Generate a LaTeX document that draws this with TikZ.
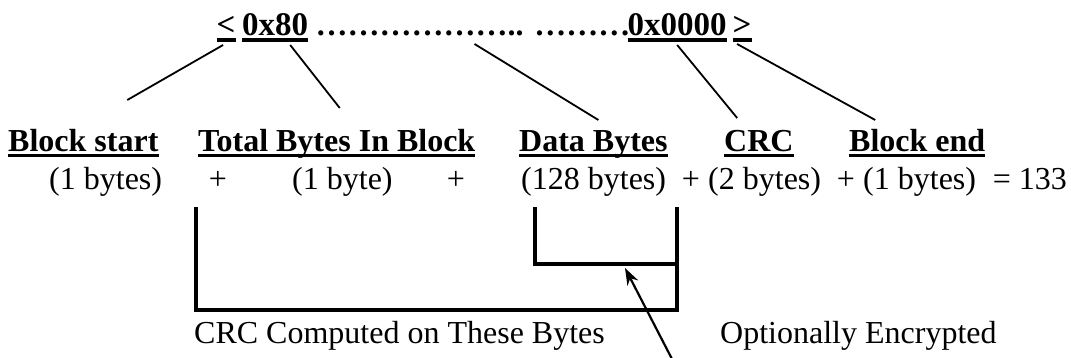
\documentclass[tikz,border=0pt]{standalone}
\usepackage{fontspec}
\setmainfont{Liberation Serif}
\usetikzlibrary{arrows.meta}

\tikzset{
  hextxt/.style={font=\fontsize{33}{40}\selectfont\bfseries, inner sep=0pt, anchor=base west},
  fieldtxt/.style={font=\fontsize{32}{38}\selectfont\bfseries, inner sep=0pt, anchor=base west},
  sizetxt/.style={font=\fontsize{32}{38}\selectfont, inner sep=0pt, anchor=base west},
  topline/.style={line width=4pt},
  fieldline/.style={line width=3pt},
  link/.style={line width=1.8pt},
  bracket/.style={line width=4pt, line join=miter},
  encarrow/.style={line width=2.2pt, -{Stealth[length=17pt,width=12pt]}}
}

\begin{document}
\begin{tikzpicture}[x=1pt,y=-1pt]
	\useasboundingbox (0,0) rectangle (1071,358);

	% frame layout
	\node[hextxt] (lt) at (216.5,35.6) {<};
	\node[hextxt] (hexa) at (242,35.6) {0x80};
	\node[hextxt, font=\fontsize{32}{38}\selectfont\bfseries] (dots) at (315.5,35.6) {……………….. ………};
	\node[hextxt] (hexb) at (627.5,35.6) {0x0000};
	\node[hextxt] (gt) at (732.5,35.6) {>};
	\foreach \n in {lt,hexa,hexb,gt}
		\draw[topline] ([yshift=-4.4pt]\n.base west) -- ([yshift=-4.4pt]\n.base east);

	% field names
	\node[fieldtxt] (bstart) at (8,152) {Block start};
	\node[fieldtxt] (total) at (198,152) {Total Bytes In Block};
	\node[fieldtxt] (data) at (519,152) {Data Bytes};
	\node[fieldtxt] (crc) at (724,152) {CRC};
	\node[fieldtxt] (bend) at (849,152) {Block end};
	\foreach \n in {bstart,total,data,crc,bend}
		\draw[fieldline] ([yshift=-3.5pt]\n.base west) -- ([yshift=-3.5pt]\n.base east);

	% field sizes
	\node[sizetxt] (sz1) at (49,190) {(1 bytes)};
	\node[sizetxt, anchor=base] (p1) at (218,190) {+};
	\node[sizetxt] (sz2) at (292,190) {(1 byte)};
	\node[sizetxt, anchor=base] (p2) at (456,190) {+};
	\node[sizetxt] (sz3) at (521,190) {(128 bytes)};
	\node[sizetxt, anchor=base] (p3) at (691,190) {+};
	\node[sizetxt] (sz4) at (708,190) {(2 bytes)};
	\node[sizetxt, anchor=base] (p4) at (846,190) {+};
	\node[sizetxt] (sz5) at (863,190) {(1 bytes)};
	\node[sizetxt, anchor=base east] (sum) at (1067,190) {= 133};

	% frame bytes to fields
	\draw[link] ([xshift=-3pt,yshift=-9.4pt]lt.base) -- ([xshift=44pt,yshift=52pt]bstart.base);
	\draw[link] ([xshift=15pt,yshift=-9.4pt]hexa.base) -- ([xshift=3pt,yshift=44pt]total.base);
	\draw[link] ([xshift=1.5pt,yshift=-8.4pt]dots.base) -- ([xshift=5pt,yshift=32pt]data.base);
	\draw[link] ([yshift=-9.4pt]hexb.base) -- ([xshift=-21.7pt,yshift=34pt]crc.base);
	\draw[link] ([xshift=-5pt,yshift=-8.4pt]gt.base) -- ([xshift=-42pt,yshift=32pt]bend.base);

	% byte ranges
	\draw[bracket] (196,207) |- (677,310) -- (677,207);
	\draw[bracket] (535,207) |- (677,264);

	\node[sizetxt] (crcnote) at (194,343) {CRC Computed on These Bytes};
	\node[sizetxt] (encnote) at (720,343) {Optionally Encrypted};

	\coordinate (enctail) at (673,361);
	\coordinate (enctip) at (625,268);
	\draw[encarrow] (enctail) -- (enctip);
\end{tikzpicture}
\end{document}
